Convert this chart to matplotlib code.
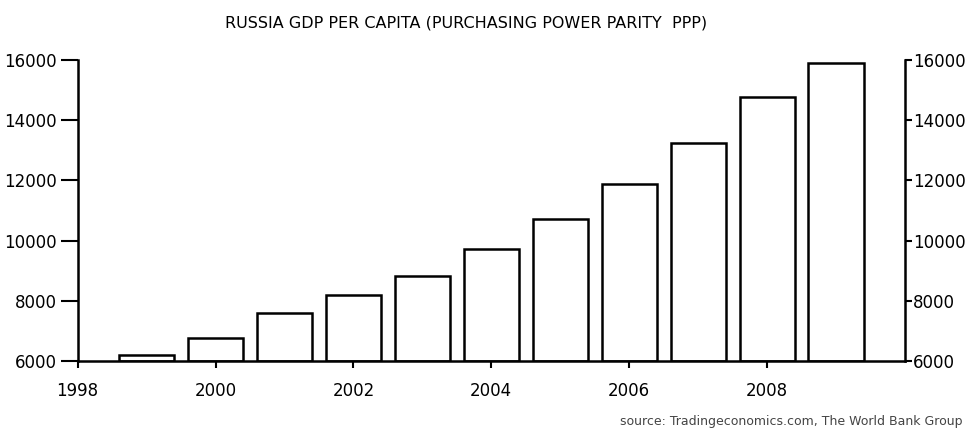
import matplotlib.pyplot as plt

years = [1999, 2000, 2001, 2002, 2003, 2004, 2005, 2006, 2007, 2008, 2009]
gdp_ppp = [6200, 6760, 7600, 8200, 8810, 9720, 10730, 11870, 13250, 14770, 15900]
xticks = [1998, 2000, 2002, 2004, 2006, 2008]
yticks = [6000, 8000, 10000, 12000, 14000, 16000]

fig = plt.figure(figsize=(9.7, 4.34), dpi=100)
ax = fig.add_axes([0.080, 0.168, 0.853, 0.694])

ax.bar(years, [v - 6000 for v in gdp_ppp], bottom=6000, width=0.8,
       color='white', edgecolor='black', linewidth=1.8)

ax.set_xlim(1998, 2010)
ax.set_ylim(6000, 16000)
ax.set_xticks(xticks)
ax.set_yticks(yticks)
ax.tick_params(axis='y', direction='out', length=12, width=1.5, labelsize=12, pad=3)
ax.tick_params(axis='x', direction='out', length=5, width=1.5, labelsize=12, pad=10)
for s in ['top', 'right']:
    ax.spines[s].set_visible(False)
ax.spines['left'].set_linewidth(1.8)
ax.spines['bottom'].set_linewidth(1.8)

ax2 = ax.twinx()
ax2.set_ylim(6000, 16000)
ax2.set_yticks(yticks)
ax2.tick_params(axis='y', direction='out', length=5, width=1.5, labelsize=12, pad=1)
for s in ['top', 'left', 'bottom']:
    ax2.spines[s].set_visible(False)
ax2.spines['right'].set_linewidth(1.8)

fig.text(0.48, 0.947, 'RUSSIA GDP PER CAPITA (PURCHASING POWER PARITY  PPP)',
         ha='center', va='center', fontsize=11.5)
fig.text(0.992, 0.028, 'source: Tradingeconomics.com, The World Bank Group',
         ha='right', va='center', fontsize=9, color='#444444')

fig.savefig('out.png', dpi=100)
